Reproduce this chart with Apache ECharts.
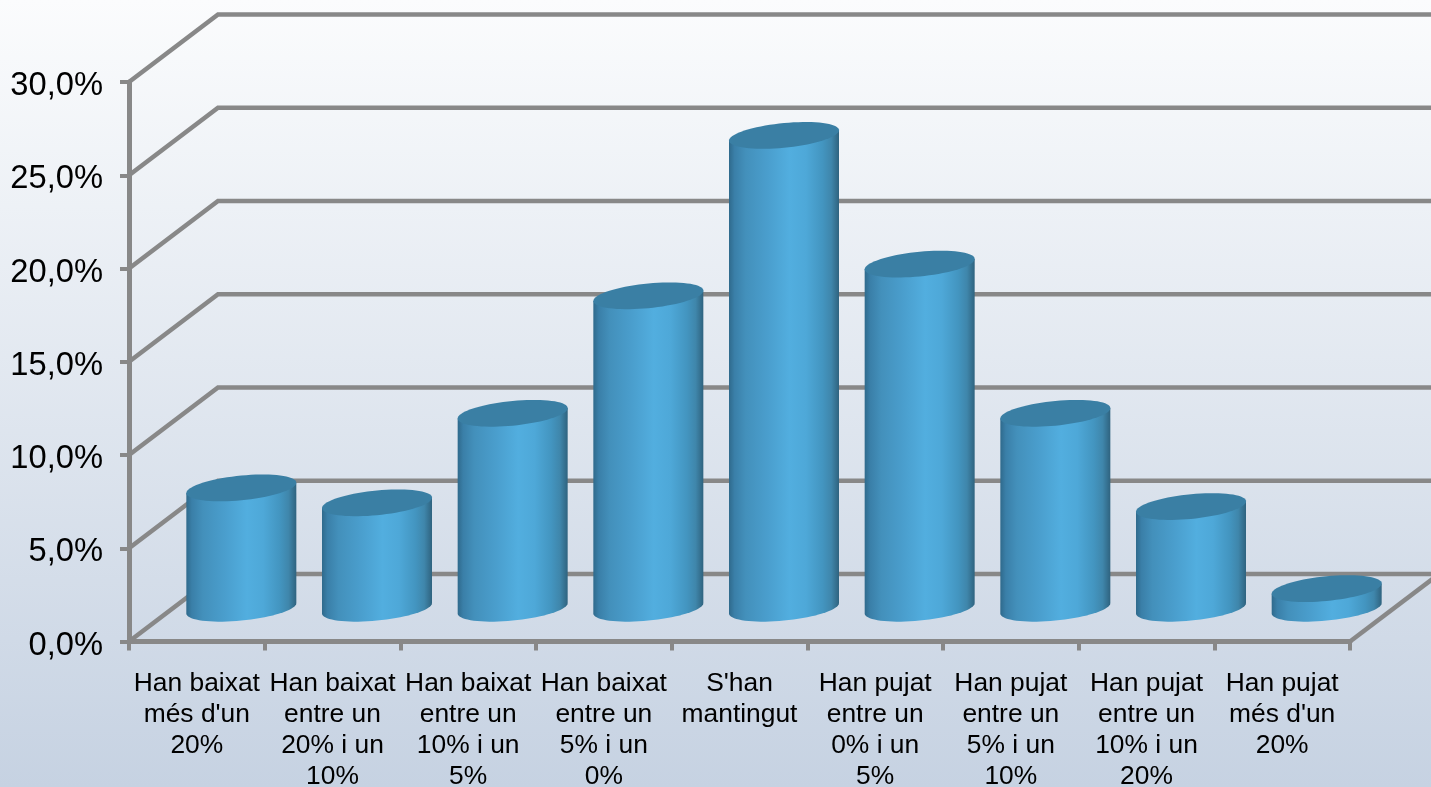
<!DOCTYPE html>
<html>
<head>
<meta charset="utf-8">
<style>html,body{margin:0;padding:0;background:#fff}#c{width:1431px;height:787px}</style>
<script src="https://cdn.jsdelivr.net/npm/echarts@6/dist/echarts.min.js"></script>
</head>
<body>
<div id="c"></div>
<script>
const categories = [
  "Han baixat\nmés d'un\n20%",
  "Han baixat\nentre un\n20% i un\n10%",
  "Han baixat\nentre un\n10% i un\n5%",
  "Han baixat\nentre un\n5% i un\n0%",
  "S'han\nmantingut",
  "Han pujat\nentre un\n0% i un\n5%",
  "Han pujat\nentre un\n5% i un\n10%",
  "Han pujat\nentre un\n10% i un\n20%",
  "Han pujat\nmés d'un\n20%"
];
const values = [6.4, 5.6, 10.4, 16.7, 25.3, 18.4, 10.4, 5.4, 1.0];
const yTicks = [0, 5, 10, 15, 20, 25, 30];

const AXIS = '#888888';
const DEPTH_X = 89, DEPTH_Y = -67.5;
const FONT = '"Liberation Sans", Arial, sans-serif';

function ellipsePoint(cx, cy, t) {
  const rx = 55, a = 5.2, b = 12.35;
  return [cx + rx * Math.cos(t), cy - a * Math.cos(t) + b * Math.sin(t)];
}
function topEllipse(cx, cy) {
  const pts = [];
  for (let i = 0; i < 72; i++) pts.push(ellipsePoint(cx, cy, i / 72 * Math.PI * 2));
  return pts;
}
function bodyOutline(cx, cyTop, cyBase) {
  const pts = [ellipsePoint(cx, cyTop, 0)];
  for (let i = 0; i <= 36; i++) pts.push(ellipsePoint(cx, cyBase, i / 36 * Math.PI));
  pts.push(ellipsePoint(cx, cyTop, Math.PI));
  return pts;
}
const bodyFill = new echarts.graphic.LinearGradient(0, 0, 1, 0, [
  { offset: 0, color: '#2f6a8c' },
  { offset: 0.05, color: '#3a7fa8' },
  { offset: 0.15, color: '#4390bb' },
  { offset: 0.35, color: '#4a9ecd' },
  { offset: 0.55, color: '#52aedf' },
  { offset: 0.7, color: '#4ea8d8' },
  { offset: 0.85, color: '#4395c0' },
  { offset: 0.93, color: '#3f86ab' },
  { offset: 1, color: '#2f637f' }
]);

const chart = echarts.init(document.getElementById('c'), null, { renderer: 'canvas' });
chart.setOption({
  animation: false,
  backgroundColor: new echarts.graphic.LinearGradient(0, 0, 0, 1, [
    { offset: 0, color: '#fbfcfd' },
    { offset: 1, color: '#c6d2e2' }
  ]),
  grid: { left: 129, right: 81, top: 82, bottom: 145.5, outerBoundsMode: 'none', containLabel: false },
  xAxis: {
    type: 'category',
    data: categories,
    boundaryGap: true,
    axisLine: { show: true, lineStyle: { color: AXIS, width: 5 } },
    axisTick: { show: true, alignWithLabel: false, length: 9, lineStyle: { color: AXIS, width: 4 } },
    axisLabel: {
      interval: 0, margin: 27, color: '#000', fontFamily: FONT, fontSize: 26.4,
      lineHeight: 31, align: 'center', verticalAlign: 'top', hideOverlap: false
    },
    splitLine: { show: false }
  },
  yAxis: {
    type: 'value', min: 0, max: 30, interval: 5,
    axisLine: { show: true, lineStyle: { color: AXIS, width: 5 } },
    axisTick: { show: true, length: 9, lineStyle: { color: AXIS, width: 4 } },
    axisLabel: {
      margin: 26, color: '#000', fontFamily: FONT, fontSize: 32.7,
      verticalAlign: 'top', lineHeight: 8,
      formatter: v => v.toFixed(1).replace('.', ',') + '%'
    },
    splitLine: { show: false }
  },
  series: [
    {
      type: 'custom', z: 1, silent: true,
      coordinateSystem: 'cartesian2d',
      data: yTicks.map(v => [0, v]),
      encode: { x: 0, y: 1 },
      renderItem(params, api) {
        const band = api.size([1, 0])[0];
        const p = api.coord([0, api.value(1)]);
        const x0 = p[0] - band / 2, y0 = p[1];
        const xEnd = x0 + band * categories.length;
        const style = { stroke: AXIS, lineWidth: 4.6, fill: null, lineJoin: 'miter' };
        const children = [{
          type: 'polyline',
          shape: { points: [[x0, y0], [x0 + DEPTH_X, y0 + DEPTH_Y], [xEnd + DEPTH_X, y0 + DEPTH_Y]] },
          style
        }];
        if (api.value(1) === 0) {
          children.push({
            type: 'line',
            shape: { x1: xEnd, y1: y0, x2: xEnd + DEPTH_X, y2: y0 + DEPTH_Y },
            style
          });
        }
        return { type: 'group', children };
      }
    },
    {
      type: 'custom', z: 3, silent: true,
      coordinateSystem: 'cartesian2d',
      data: values.map((v, i) => [i, v]),
      encode: { x: 0, y: 1 },
      renderItem(params, api) {
        const i = api.value(0), v = api.value(1);
        const base = api.coord([i, 0]);
        const top = api.coord([i, v]);
        const cx = base[0] + DEPTH_X / 2;
        const cyBase = base[1] + DEPTH_Y / 2 + 0.5;
        const cyTop = top[1] + DEPTH_Y / 2 - 0.5;
        return {
          type: 'group',
          children: [
            { type: 'polygon', shape: { points: bodyOutline(cx, cyTop, cyBase) }, style: { fill: bodyFill } },
            { type: 'polygon', shape: { points: topEllipse(cx, cyTop) }, style: { fill: '#3a7fa4' } }
          ]
        };
      }
    }
  ]
});
</script>
</body>
</html>
